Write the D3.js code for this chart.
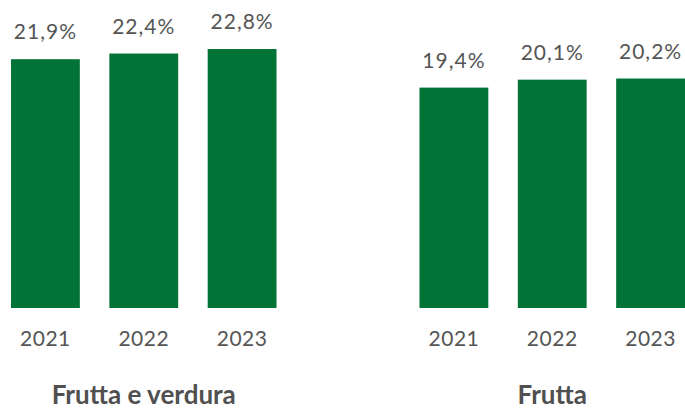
<!DOCTYPE html>
<meta charset="utf-8">
<style>
body { margin: 0; background: #fff; }
text { font-family: Lato, "Open Sans", sans-serif; fill: #555; }
.val { font-size: 21px; letter-spacing: 1px; }
.year { font-size: 21px; letter-spacing: 0.5px; }
.title { font-size: 26px; font-weight: bold; fill: #505050; }
</style>
<body>
<script src="https://d3js.org/d3.v7.min.js"></script>
<script>
var years = ["2021", "2022", "2023"];
var groups = ["Frutta e verdura", "Frutta"];
var frutta_verdura = [21.9, 22.4, 22.8];
var frutta = [19.4, 20.1, 20.2];
var series = [frutta_verdura, frutta];

var width = 685, height = 409, base = 308;

var svg = d3.select("body").append("svg")
    .attr("width", width)
    .attr("height", height);

var x0 = d3.scaleBand().domain(groups).range([11, 685]).paddingInner(0.35);
var x1 = d3.scaleBand().domain(years).range([0, x0.bandwidth()]).paddingInner(0.3);
var y = d3.scaleLinear().domain([0, 25]).range([base, base - 25 * 11.36]);

var fmt = function(v) { return d3.format(".1f")(v).replace(".", ",") + "%"; };

var g = svg.selectAll(".group")
    .data(groups)
  .enter().append("g")
    .attr("class", "group")
    .attr("transform", function(d) { return "translate(" + x0(d) + ",0)"; });

g.selectAll("rect")
    .data(function(d, i) { return series[i].map(function(v, j) { return {year: years[j], value: v}; }); })
  .enter().append("rect")
    .attr("x", function(d) { return x1(d.year); })
    .attr("y", function(d) { return y(d.value); })
    .attr("width", x1.bandwidth())
    .attr("height", function(d) { return base - y(d.value); })
    .attr("fill", "#027336");

g.selectAll(".val")
    .data(function(d, i) { return series[i].map(function(v, j) { return {year: years[j], value: v}; }); })
  .enter().append("text")
    .attr("class", "val")
    .attr("x", function(d) { return x1(d.year) + x1.bandwidth() / 2; })
    .attr("y", function(d) { return y(d.value) - 20; })
    .attr("text-anchor", "middle")
    .text(function(d) { return fmt(d.value); });

g.selectAll(".year")
    .data(years)
  .enter().append("text")
    .attr("class", "year")
    .attr("x", function(d) { return x1(d) + x1.bandwidth() / 2; })
    .attr("y", 346)
    .attr("text-anchor", "middle")
    .text(function(d) { return d; });

g.append("text")
    .attr("class", "title")
    .attr("x", x0.bandwidth() / 2)
    .attr("y", 404)
    .attr("text-anchor", "middle")
    .text(function(d) { return d; });
</script>
